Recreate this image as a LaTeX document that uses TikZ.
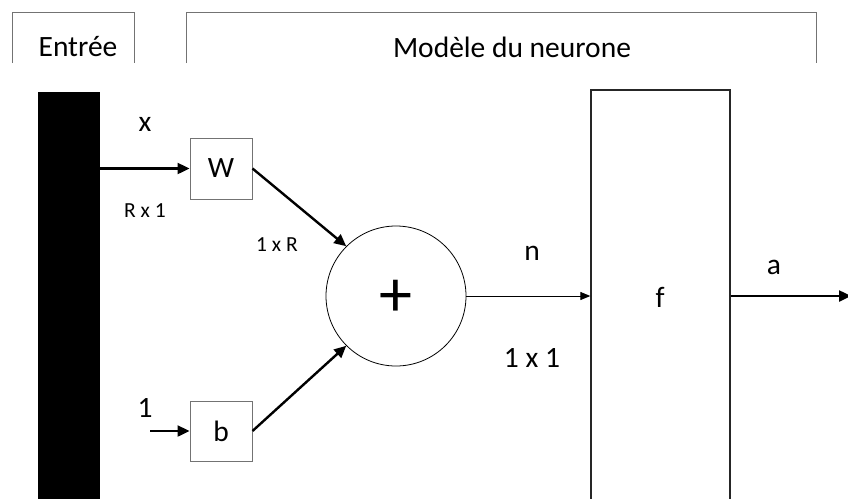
\documentclass[tikz,border=0pt]{standalone}
\usepackage{fontspec}
\setmainfont{Carlito}
\usetikzlibrary{arrows.meta}
\begin{document}
\begin{tikzpicture}[x=1pt,y=-1pt,
  lbl/.style={inner sep=0pt,font=\fontsize{29.5}{34}\selectfont},
  small/.style={inner sep=0pt,font=\fontsize{21.5}{25}\selectfont},
  opbox/.style={draw=black!55,line width=1pt,fill=white,minimum width=62pt,minimum height=61pt,inner sep=0pt,font=\fontsize{29.5}{34}\selectfont},
  hdr/.style={draw=black!55,line width=1pt},
  thick arrow/.style={line width=2.4pt,-{Triangle[length=12pt,width=11pt]}},
  thin arrow/.style={line width=1pt,-{Triangle[length=10pt,width=8pt]}}]
\useasboundingbox (0,0) rectangle (848,498);
\clip (0,0) rectangle (848,498);
% headers
\node[lbl] (tin) at (78,47) {Entrée};
\node[lbl] (tmod) at (512,47) {Modèle du neurone};
\draw[hdr] (12,63) -- (12,12) -- (134,12) -- (134,63);
\draw[hdr] (186,63) -- (186,12) -- (816,12) -- (816,63);
% input bar
\node[draw=black,fill=black,minimum width=61pt,minimum height=410pt,inner sep=0pt] (bar) at (68.5,297) {};
% operators
\node[opbox] (W) at (221,168.5) {W};
\node[opbox,minimum height=60pt] (b) at (221,431) {b};
\node[draw=black,line width=0.8pt,circle,minimum size=140pt,inner sep=0pt] (sum) at (396,296) {};
\node[inner sep=0pt,font=\fontsize{66}{72}\selectfont] (plus) at (396,298) {+};
\node[draw=black!85,line width=1.3pt,minimum width=139pt,minimum height=414pt,inner sep=0pt] (f) at (660.5,297) {};
\node[lbl] (flab) at (660,297) {f};
\coordinate (one) at (150,431);
\coordinate (out) at (851,296);
% connectors
\draw[thick arrow] (bar.east |- W.west) -- (W.west);
\draw[thick arrow] (one) -- (b.west);
\draw[thick arrow] (W.east) -- (sum.135);
\draw[thick arrow] (b.east) -- (sum.225);
\draw[thin arrow] (sum.east) -- (sum.east -| f.west);
\draw[thick arrow] (f.east |- out) -- (out);
% labels
\node[lbl] (lx) at (145,124) {x};
\node[small] (lrx1) at (145,211) {R x 1};
\node[small] (l1xr) at (277,245) {1 x R};
\node[lbl] (l1) at (145,408) {1};
\node[lbl] (ln) at (532,253) {n};
\node[lbl] (l1x1) at (532,358) {1 x 1};
\node[lbl] (la) at (774,267) {a};
\end{tikzpicture}
\end{document}
